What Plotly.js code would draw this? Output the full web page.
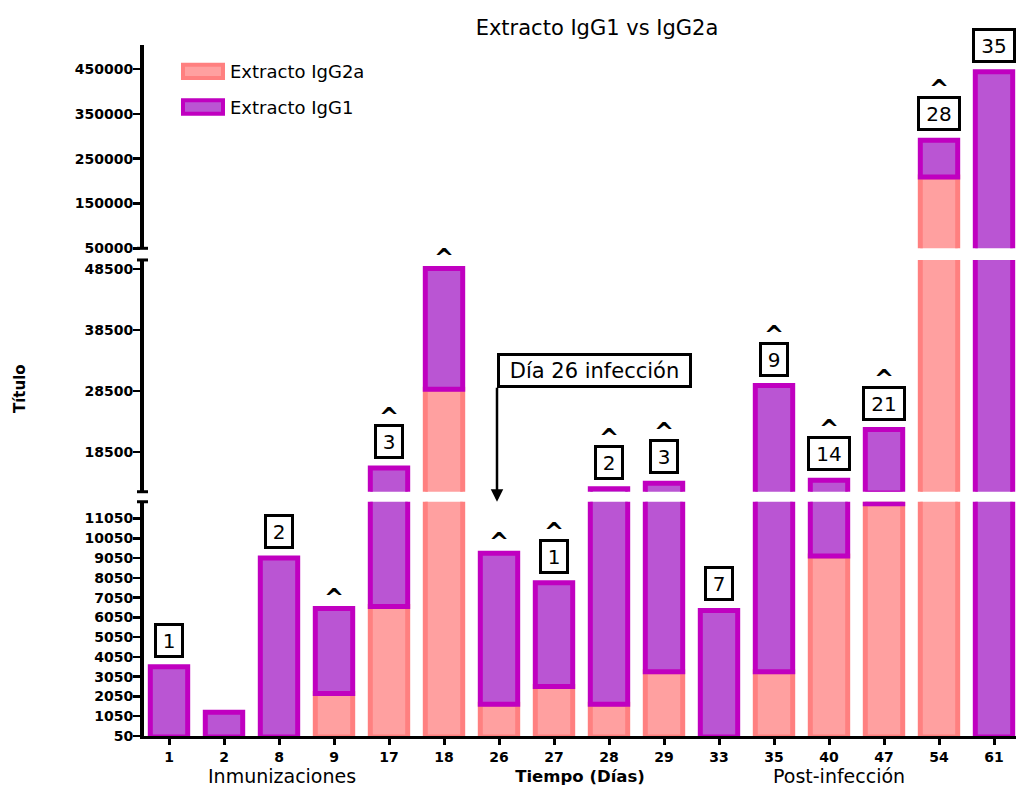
<!DOCTYPE html>
<html><head><meta charset="utf-8">
<script src="https://cdn.plot.ly/plotly-3.0.1.min.js"></script>
<style>html,body{margin:0;padding:0;background:#fff}#chart{width:1016px;height:787px}</style>
</head><body><div id="chart"></div>
<script>
// ---- data ----
const days = ['1','2','8','9','17','18','26','27','28','29','33','35','40','47','54','61'];
const igg2a = [0, 0, 0, 2200, 6600, 28800, 1650, 2550, 1650, 3300, 0, 3300, 9150, 11800, 209000, 0];
const igg1  = [3550, 1250, 9050, 6500, 15900, 48600, 9300, 7800, 12500, 13400, 6400, 29400, 13900, 22200, 291000, 444000];
const boxLabels = ['1','','2','','3','','','1','2','3','7','9','14','21','28','35'];
const hasCaret  = [0,0,0,1,1,1,1,1,1,1,0,1,1,1,1,0];
const seriesNames = ['Extracto IgG2a','Extracto IgG1'];
const chartTitle = 'Extracto IgG1 vs IgG2a';
const xTitle = 'Tiempo (Días)';
const yTitle = 'Título';
const phaseLabels = ['Inmunizaciones','Post-infección'];
const infectionLabel = 'Día 26 infección';
const infectionDay = '26';

// ---- layout helpers ----
const F = 'DejaVu Sans';
const W = 1016, H = 787, ML = 144, MR = 0, MT = 45, MB = 51;
const PW = W - ML - MR, PH = H - MT - MB;
const px2x = px => (px - ML) / PW;
const py2y = py => (H - MB - py) / PH;

const segments = [
  {axis:'y',  key:'yaxis',  domain:[0, 0.339],       range:[50, 11900],     tick0:50,    dtick:1000},
  {axis:'y2', key:'yaxis2', domain:[0.3535, 0.6889], range:[12000, 50000],  tick0:18500, dtick:10000},
  {axis:'y3', key:'yaxis3', domain:[0.7058, 1],      range:[50000, 503500], tick0:50000, dtick:100000}
];
function segAxis(v){
  for (const s of segments) if (v <= s.range[1]) return s.axis;
  return segments[segments.length-1].axis;
}

const pinkFill = '#FFA0A0', pinkLine = '#FF8080';
const purpFill = '#BA55D3', purpLine = '#C000C0';
const barW = 0.68;

const traces = [];
segments.forEach(s => {
  // only bars that reach into this axis segment
  const pk = days.map((d,i)=>i).filter(i => igg2a[i] > s.range[0]);
  const pu = days.map((d,i)=>i).filter(i => igg1[i] > s.range[0]);
  traces.push({type:'bar', x:pk.map(i=>days[i]), y:pk.map(i=>igg2a[i]), xaxis:'x', yaxis:s.axis, width:barW,
    name:seriesNames[0], showlegend:false, hoverinfo:'skip',
    marker:{color:pinkFill, line:{color:pinkLine, width:5}}});
  traces.push({type:'bar', x:pu.map(i=>days[i]), y:pu.map(i=>igg1[i]-igg2a[i]), base:pu.map(i=>igg2a[i]),
    xaxis:'x', yaxis:s.axis, width:barW,
    name:seriesNames[1], showlegend:false, hoverinfo:'skip',
    marker:{color:purpFill, line:{color:purpLine, width:5}}});
});

const tickFont = {family:F, size:14, weight:'bold', color:'#000'};
const layout = {
  width:W, height:H, margin:{l:ML, r:MR, t:MT, b:MB},
  paper_bgcolor:'#fff', plot_bgcolor:'#fff',
  barmode:'overlay', showlegend:false,
  title:{text:chartTitle, font:{family:F, size:21, color:'#000'}, x:597/W, xanchor:'center', xref:'container', y:1-28/H, yanchor:'middle', yref:'container'},
  xaxis:{type:'category', categoryorder:'array', categoryarray:days, range:[-0.4545, 15.40], anchor:'y',
    showline:true, linewidth:3, linecolor:'#000', ticks:'outside', ticklen:6, tickwidth:3, tickcolor:'#000',
    tickfont:tickFont, showgrid:false, zeroline:false, fixedrange:true,
    title:{text:xTitle, font:{family:F, size:16.5, weight:'bold', color:'#000'}, standoff:7}},
  shapes:[], annotations:[]
};
segments.forEach(s => {
  layout[s.key] = {domain:s.domain, range:s.range, anchor:'x', tickmode:'linear', tick0:s.tick0, dtick:s.dtick,
    tickformat:'d', showline:true, linewidth:4, linecolor:'#000', ticks:'outside', ticklen:7, tickwidth:2.5,
    tickcolor:'#000', tickfont:tickFont, ticklabelstandoff:-3, showgrid:false, zeroline:false, fixedrange:true};
});

// axis break caps
[['y3 domain',0],['y2 domain',1],['y2 domain',0],['y domain',1]].forEach(([ref,pos]) => {
  layout.shapes.push({type:'line', xref:'paper', xsizemode:'pixel', xanchor:0, x0:-7, x1:4,
    yref:ref, y0:pos, y1:pos, line:{color:'#000', width:3}});
});

// legend (manual swatches)
[[pinkFill,pinkLine,64.7,78,71.5],[purpFill,purpLine,100.3,113.7,107.3]].forEach(([fc,lc,y0,y1,yt],k) => {
  layout.shapes.push({type:'rect', xref:'paper', yref:'paper', x0:px2x(183), x1:px2x(223), y0:py2y(y1), y1:py2y(y0),
    fillcolor:fc, line:{color:lc, width:4}});
  layout.annotations.push({xref:'paper', yref:'paper', x:px2x(228), y:py2y(yt), xanchor:'left', yanchor:'middle',
    text:seriesNames[k], showarrow:false, font:{family:F, size:18, color:'#000'}});
});

// count boxes and carets (x given as category serial number)
days.forEach((d,i) => {
  const v = igg1[i], yr = segAxis(v);
  if (boxLabels[i]) layout.annotations.push({x:i, xref:'x', y:v, yref:yr, yanchor:'bottom', yshift:9,
    text:boxLabels[i], showarrow:false, font:{family:F, size:20, color:'#000'},
    bordercolor:'#000', borderwidth:3, borderpad:1, bgcolor:'#fff',
    width:8+14*boxLabels[i].length, height:27});
  if (hasCaret[i]) layout.annotations.push({x:i, xref:'x', y:v, yref:yr, yanchor:'middle',
    yshift: boxLabels[i] ? 51 : 11, text:'^', showarrow:false,
    font:{family:F, size:24, weight:'bold', color:'#000'}});
});

// infection arrow
layout.annotations.push({x:days.indexOf(infectionDay), xref:'x', y:segments[0].range[1], yref:'y',
  ax:0, ay:-114, axref:'pixel', ayref:'pixel', xanchor:'left', yanchor:'bottom',
  text:infectionLabel, showarrow:true, arrowhead:2, arrowsize:1, arrowwidth:2.5, arrowcolor:'#000',
  font:{family:F, size:21, color:'#000'}, bordercolor:'#000', borderwidth:3, borderpad:1, bgcolor:'#fff',
  width:187, height:27, xshift:-2});

// phase labels and y title
layout.annotations.push({xref:'paper', yref:'paper', x:px2x(282), y:py2y(776), xanchor:'center', yanchor:'middle',
  text:phaseLabels[0], showarrow:false, font:{family:F, size:19, color:'#000'}});
layout.annotations.push({xref:'paper', yref:'paper', x:px2x(839), y:py2y(776), xanchor:'center', yanchor:'middle',
  text:phaseLabels[1], showarrow:false, font:{family:F, size:19, color:'#000'}});
layout.annotations.push({xref:'paper', yref:'paper', x:px2x(20), y:py2y(389), xanchor:'center', yanchor:'middle',
  textangle:-90, text:yTitle, showarrow:false, font:{family:F, size:15, weight:'bold', color:'#000'}});

Plotly.newPlot('chart', traces, layout, {staticPlot:true, displayModeBar:false});
</script></body></html>
